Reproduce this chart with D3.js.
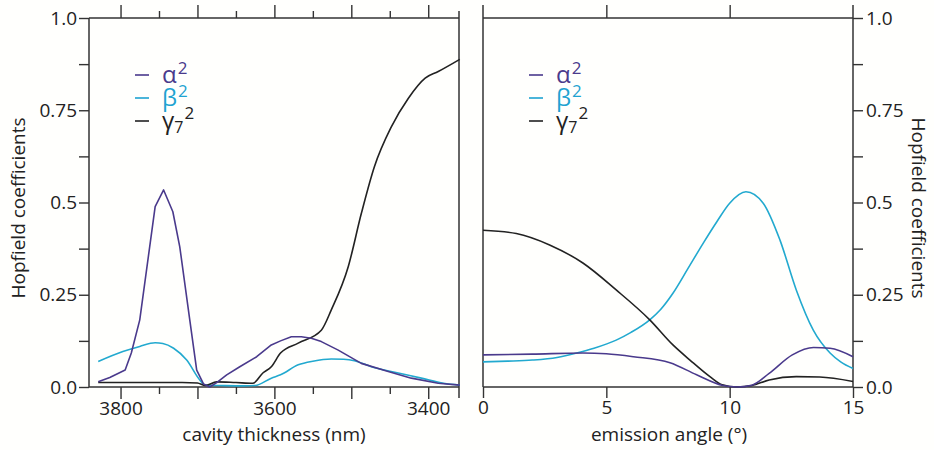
<!DOCTYPE html>
<html>
<head>
<meta charset="utf-8">
<script src="https://cdn.jsdelivr.net/npm/d3@7"></script>
<style>
  html, body { margin: 0; padding: 0; background: #fffffd; }
  svg { display: block; font-family: "Open Sans", "Noto Sans", sans-serif; }
</style>
</head>
<body>
<svg id="chart" width="934" height="450"></svg>
<script>
// ---------- data ----------
// left panel: cavity thickness (nm)
const leftAlphaX = [3829, 3814, 3794, 3786, 3775, 3755, 3744, 3732, 3723, 3710, 3701, 3692, 3684, 3675, 3662, 3645, 3623, 3604, 3592, 3578, 3565, 3552, 3539, 3517, 3487, 3452, 3422, 3387, 3359];
const leftAlphaY = [0.014, 0.026, 0.046, 0.092, 0.182, 0.489, 0.534, 0.475, 0.38, 0.182, 0.046, 0.008, 0.0, 0.012, 0.033, 0.055, 0.082, 0.114, 0.125, 0.136, 0.136, 0.132, 0.123, 0.1, 0.064, 0.042, 0.024, 0.01, 0.005];

const leftBetaX = [3829, 3797, 3775, 3755, 3745, 3731, 3714, 3697, 3690, 3670, 3640, 3625, 3604, 3592, 3569, 3550, 3526, 3510, 3496, 3474, 3439, 3409, 3380, 3359];
const leftBetaY = [0.069, 0.096, 0.11, 0.12, 0.118, 0.105, 0.073, 0.019, 0.005, 0.004, 0.003, 0.004, 0.024, 0.033, 0.06, 0.07, 0.076, 0.075, 0.071, 0.055, 0.038, 0.024, 0.01, 0.005];

const leftGammaX = [3829, 3800, 3760, 3720, 3700, 3690, 3675, 3650, 3628, 3615, 3604, 3592, 3569, 3539, 3526, 3504, 3487, 3470, 3448, 3426, 3404, 3387, 3359];
const leftGammaY = [0.012, 0.012, 0.012, 0.012, 0.011, 0.004, 0.014, 0.012, 0.01, 0.038, 0.055, 0.092, 0.119, 0.154, 0.209, 0.326, 0.47, 0.597, 0.705, 0.782, 0.837, 0.855, 0.888];

// right panel: emission angle (deg)
const rightAlphaX = [0, 2, 4.05, 5, 6.1, 7.58, 8.66, 9.73, 10.3, 10.9, 11.6, 12.54, 13.4, 14.07, 15];
const rightAlphaY = [0.087, 0.089, 0.092, 0.09, 0.082, 0.066, 0.033, 0.004, 0.0, 0.005, 0.037, 0.087, 0.107, 0.105, 0.082];

const rightBetaX = [0, 1, 2, 3, 3.8, 4.5, 5.4, 6, 6.76, 7.2, 7.7, 8.3, 8.93, 9.5, 10, 10.66, 11.36, 12.04, 12.7, 13.39, 14.07, 14.5, 15];
const rightBetaY = [0.068, 0.07, 0.073, 0.08, 0.092, 0.105, 0.127, 0.148, 0.182, 0.21, 0.254, 0.32, 0.39, 0.45, 0.498, 0.529, 0.498, 0.398, 0.263, 0.154, 0.092, 0.068, 0.05];

const rightGammaX = [0, 1.35, 2.7, 4.05, 5.4, 6.76, 7.7, 8.39, 9.2, 9.7, 10.3, 10.9, 11.6, 12.7, 13.65, 15];
const rightGammaY = [0.425, 0.416, 0.385, 0.336, 0.263, 0.182, 0.114, 0.073, 0.028, 0.006, 0.0, 0.004, 0.019, 0.028, 0.027, 0.015];

const yTickValues = [0, 0.125, 0.25, 0.375, 0.5, 0.625, 0.75, 0.875, 1.0];
const yTickLabels = {0: "0.0", 0.25: "0.25", 0.5: "0.5", 0.75: "0.75", 1: "1.0"};
const leftMajorTicks = [3800, 3700, 3600, 3500, 3400];
const leftMinorTicks = [3750, 3650, 3550, 3450];
const leftLabelTicks = [3800, 3600, 3400];
const rightXTicks = [0, 5, 10, 15];
const rightTopTicks = [5, 10];

const legendItems = [
  {base: "α", sub: null, sup: "2", color: "#4a3a8c"},
  {base: "β", sub: null, sup: "2", color: "#1fa3d1"},
  {base: "γ", sub: "7", sup: "2", color: "#222222"}
];
const colors = {alpha: "#4a3a8c", beta: "#22a9cf", gamma: "#222222"};
const axisColor = "#333";

// ---------- layout ----------
const svg = d3.select("#chart");
const plotTop = 18, plotBottom = 387;
const y = d3.scaleLinear().domain([0, 1]).range([plotBottom, plotTop]);
const xL = d3.scaleLinear().domain([3841, 3360]).range([89, 459]);
const xR = d3.scaleLinear().domain([0, 15]).range([483, 853]);

function styleAxis(g) {
  g.selectAll("path").remove();
  g.selectAll("line").attr("stroke", axisColor).attr("stroke-width", 1.4);
  g.selectAll("text").attr("fill", "#222").style("font-size", "19px")
    .style("font-family", "'Open Sans', sans-serif");
}

function frameLine(x1, y1, x2, y2) {
  svg.append("line").attr("x1", x1).attr("y1", y1).attr("x2", x2).attr("y2", y2)
    .attr("stroke", axisColor).attr("stroke-width", 1.5);
}

// ---- left panel axes ----
svg.append("g").attr("transform", `translate(${xL.range()[0]},0)`)
  .call(d3.axisLeft(y).tickValues(yTickValues).tickSize(10).tickPadding(2)
    .tickFormat(d => yTickLabels[d] !== undefined ? yTickLabels[d] : ""))
  .call(styleAxis);
svg.append("g").attr("transform", `translate(0,${plotBottom})`)
  .call(d3.axisBottom(xL).tickValues(leftMajorTicks).tickSize(12).tickPadding(3)
    .tickFormat(d => leftLabelTicks.includes(d) ? d : ""))
  .call(styleAxis);
svg.append("g").attr("transform", `translate(0,${plotBottom})`)
  .call(d3.axisBottom(xL).tickValues(leftMinorTicks).tickSize(7).tickFormat(""))
  .call(styleAxis);
svg.append("g").attr("transform", `translate(0,${plotTop})`)
  .call(d3.axisTop(xL).tickValues(leftMajorTicks).tickSize(13).tickFormat(""))
  .call(styleAxis);
svg.append("g").attr("transform", `translate(0,${plotTop})`)
  .call(d3.axisTop(xL).tickValues(leftMinorTicks).tickSize(7).tickFormat(""))
  .call(styleAxis);
frameLine(xL.range()[0], plotTop, xL.range()[0], plotBottom);
frameLine(xL.range()[0], plotTop, xL.range()[1], plotTop);
frameLine(xL.range()[0], plotBottom, xL.range()[1], plotBottom);
frameLine(xL.range()[1], plotTop - 7, xL.range()[1], plotBottom + 11);

// ---- right panel axes ----
svg.append("g").attr("transform", `translate(${xR.range()[1]},0)`)
  .call(d3.axisRight(y).tickValues(yTickValues).tickSize(10).tickPadding(3)
    .tickFormat(d => yTickLabels[d] !== undefined ? yTickLabels[d] : ""))
  .call(styleAxis);
svg.append("g").attr("transform", `translate(0,${plotBottom})`)
  .call(d3.axisBottom(xR).tickValues(rightXTicks).tickSize(11).tickPadding(3).tickFormat(d3.format("d")))
  .call(styleAxis);
svg.append("g").attr("transform", `translate(0,${plotTop})`)
  .call(d3.axisTop(xR).tickValues(rightTopTicks).tickSize(13).tickFormat(""))
  .call(styleAxis);
frameLine(xR.range()[0], plotTop - 13, xR.range()[0], plotBottom);
frameLine(xR.range()[1], plotTop - 13, xR.range()[1], plotBottom);
frameLine(xR.range()[0], plotTop, xR.range()[1], plotTop);
frameLine(xR.range()[0], plotBottom, xR.range()[1], plotBottom);

// ---- axis titles ----
const titleStyle = t => t.attr("fill", "#222").style("font-size", "19px");
svg.append("text").attr("x", 274).attr("y", 441).attr("text-anchor", "middle")
  .text("cavity thickness (nm)").call(titleStyle);
svg.append("text").attr("x", 669).attr("y", 441).attr("text-anchor", "middle")
  .text("emission angle (°)").call(titleStyle);
svg.append("text").attr("transform", "translate(25,208) rotate(-90)").attr("text-anchor", "middle")
  .text("Hopfield coefficients").call(titleStyle);
svg.append("text").attr("transform", "translate(912,208) rotate(90)").attr("text-anchor", "middle")
  .text("Hopfield coefficients").call(titleStyle);

// ---- series ----
function drawSeries(xs, ys, xScale, color, curve) {
  const pts = xs.map((d, i) => [d, ys[i]]);
  svg.append("path").datum(pts)
    .attr("fill", "none").attr("stroke", color).attr("stroke-width", 1.6)
    .attr("stroke-linejoin", "round")
    .attr("d", d3.line().x(d => xScale(d[0])).y(d => y(d[1])).curve(curve));
}
drawSeries(leftBetaX, leftBetaY, xL, colors.beta, d3.curveMonotoneX);
drawSeries(leftGammaX, leftGammaY, xL, colors.gamma, d3.curveMonotoneX);
drawSeries(leftAlphaX, leftAlphaY, xL, colors.alpha, d3.curveLinear);

drawSeries(rightBetaX, rightBetaY, xR, colors.beta, d3.curveMonotoneX);
drawSeries(rightGammaX, rightGammaY, xR, colors.gamma, d3.curveMonotoneX);
drawSeries(rightAlphaX, rightAlphaY, xR, colors.alpha, d3.curveMonotoneX);

// ---- legends ----
function drawLegend(frameX) {
  legendItems.forEach((it, i) => {
    const base = 83 + i * 23;
    svg.append("line").attr("x1", frameX + 46).attr("x2", frameX + 60)
      .attr("y1", base - 8).attr("y2", base - 8)
      .attr("stroke", it.color).attr("stroke-width", 1.6);
    const t = svg.append("text").attr("x", frameX + 73).attr("y", base)
      .attr("fill", it.color).style("font-size", "24px");
    t.append("tspan").text(it.base);
    if (it.sub) {
      t.append("tspan").attr("dy", 4).style("font-size", "16px").text(it.sub);
      t.append("tspan").attr("dy", -14).attr("dx", 1).style("font-size", "17px").text(it.sup);
    } else {
      t.append("tspan").attr("dy", -9).attr("dx", 1).style("font-size", "17px").text(it.sup);
    }
  });
}
drawLegend(89);
drawLegend(483);
</script>
</body>
</html>
